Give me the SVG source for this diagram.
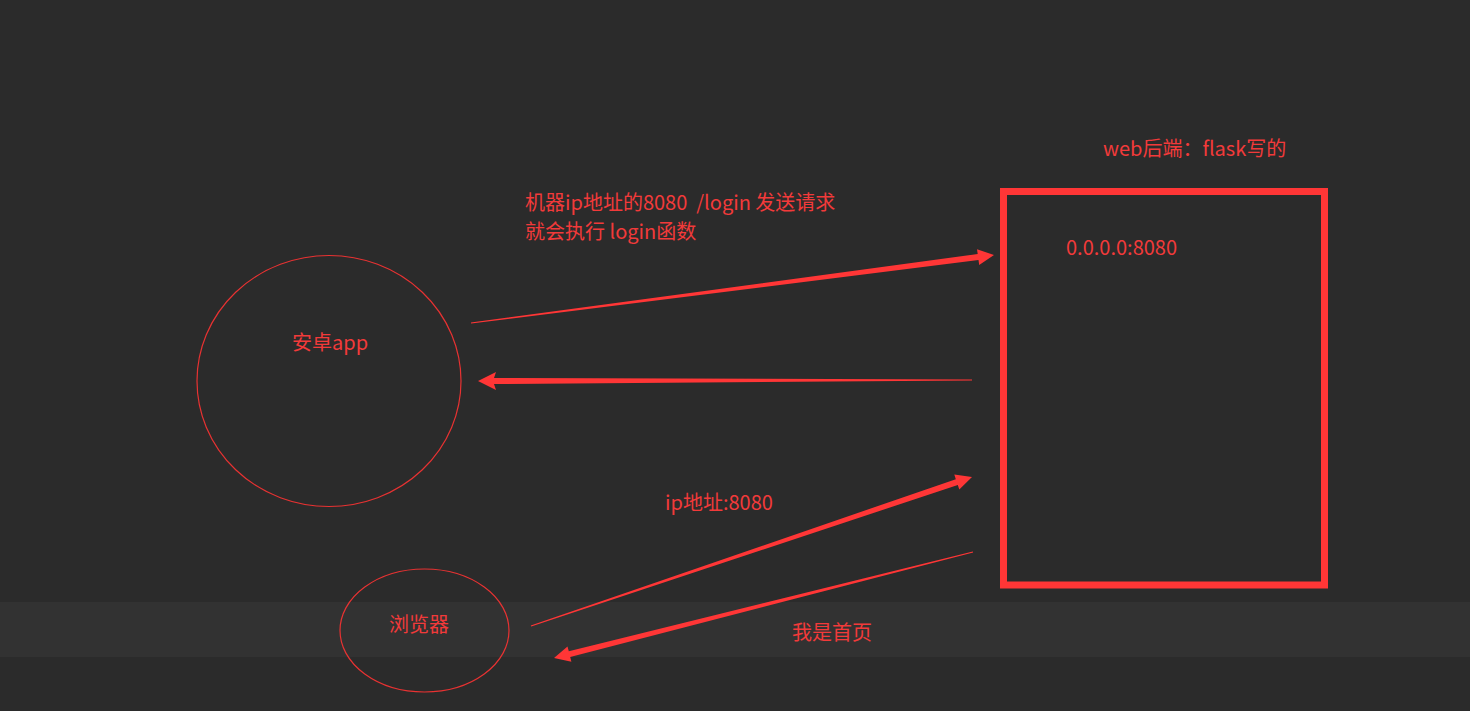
<svg xmlns="http://www.w3.org/2000/svg" width="1470" height="711" viewBox="0 0 1470 711">
<style>
.t{font-family:"Microsoft YaHei","Noto Sans CJK SC","Noto Sans",sans-serif;font-size:20px;fill:#f23a3a}
.e{fill:none;stroke:#e83232;stroke-width:1.2}
.a{fill:#ff3636}
</style>
<rect width="1470" height="711" fill="#2b2b2b"/>
<rect x="0" y="602" width="1470" height="55" fill="#323232"/>
<g id="android">
<ellipse class="e" cx="329" cy="381" rx="132" ry="125.5"/>
<text class="t" x="292" y="350">安卓app</text>
</g>
<g id="browser">
<ellipse class="e" cx="424.5" cy="630.5" rx="84.5" ry="61.5"/>
<text class="t" x="389" y="632">浏览器</text>
</g>
<g id="server">
<rect x="1003.5" y="191.5" width="321" height="393.5" fill="none" stroke="#ff3636" stroke-width="7"/>
<text class="t" x="1103" y="156">web后端：flask写的</text>
<text class="t" x="1066" y="255">0.0.0.0:8080</text>
</g>
<g id="connectors">
<polygon class="a" points="471.1,323.5 978.5,260.1 979.2,265.0 994,255 977.0,249.2 977.7,254.1 470.9,322.5"/>
<polygon class="a" points="972,380.5 494,384 496,390 478,381 496,372 494,378 972,379.5"/>
<polygon class="a" points="531.2,626.5 957.8,485.0 959.3,489.6 972,477 954.3,474.6 955.8,479.2 530.8,625.5"/>
<polygon class="a" points="973.1,552.5 570.2,657.0 571.4,661.8 554,658 567.5,646.4 568.8,651.2 972.9,551.5"/>
</g>
<g id="labels">
<text class="t" x="525" y="210" xml:space="preserve">机器ip地址的8080  /login 发送请求</text>
<text class="t" x="525" y="239">就会执行 login函数</text>
<text class="t" x="665" y="510">ip地址:8080</text>
<text class="t" x="792" y="640">我是首页</text>
</g>
</svg>
